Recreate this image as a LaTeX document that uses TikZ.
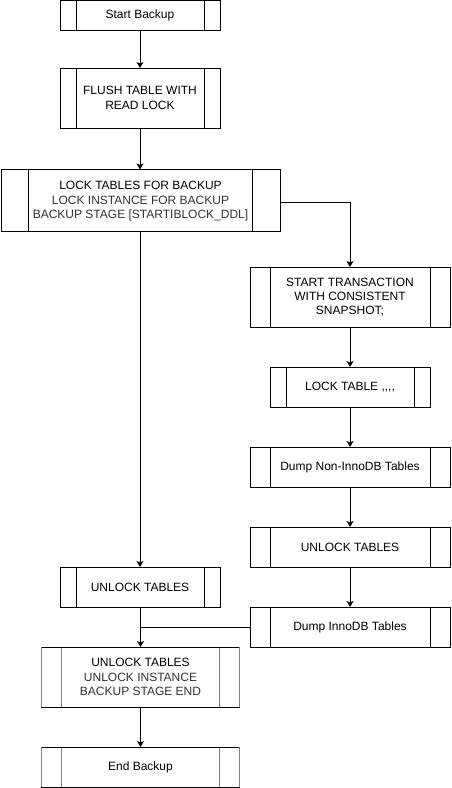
\documentclass[tikz,border=0pt]{standalone}
\usepackage{fontspec}
\setmainfont{Liberation Sans}
\usetikzlibrary{arrows.meta,calc}
\definecolor{boxgray}{RGB}{128,128,128}
\definecolor{txtgray}{RGB}{51,51,51}
\tikzset{
  procbars/.style={path picture={
    \draw[#1] ($(path picture bounding box.north west)!0.1!(path picture bounding box.north east)$) --
              ($(path picture bounding box.south west)!0.1!(path picture bounding box.south east)$);
    \draw[#1] ($(path picture bounding box.north west)!0.9!(path picture bounding box.north east)$) --
              ($(path picture bounding box.south west)!0.9!(path picture bounding box.south east)$);
  }},
  proc/.style={draw=black, line width=1pt, fill=white, inner sep=0pt, outer sep=0pt,
    align=center, font=\fontsize{12}{14.4}\selectfont, procbars=black},
  procg/.style={proc, procbars={boxgray,line width=1.4pt}},
  flow/.style={line width=1pt, draw=black, -{Stealth[length=6pt,width=7pt,inset=1.5pt]}},
  joinline/.style={line width=1pt, draw=black},
}
\begin{document}
\begin{tikzpicture}[x=1pt,y=-1pt]
\useasboundingbox (0,0) rectangle (451,788);
\node[proc, minimum width=160, minimum height=30] (s1) at (140,15.5) {Start Backup};
\node[proc, minimum width=160, minimum height=60] (s2) at (140,98) {FLUSH TABLE WITH\\READ LOCK};
\node[proc, minimum width=279, minimum height=62] (s3) at (140.5,200.5) {\rule{0pt}{10pt}LOCK TABLES FOR BACKUP\\\textcolor{txtgray}{LOCK INSTANCE FOR BACKUP}\\\textcolor{txtgray}{BACKUP STAGE [STARTIBLOCK\_DDL]}};
\node[proc, minimum width=200, minimum height=60] (r1) at (350,297) {START TRANSACTION\\WITH CONSISTENT\\SNAPSHOT;};
\node[proc, minimum width=160, minimum height=40] (r2) at (350,387) {LOCK TABLE {,}{,}{,}{,}};
\node[proc, minimum width=200, minimum height=40] (r3) at (350,467) {Dump Non-InnoDB Tables};
\node[proc, minimum width=200, minimum height=40] (r4) at (350,547) {UNLOCK TABLES};
\node[proc, minimum width=200, minimum height=40] (r5) at (350,627) {Dump InnoDB Tables};
\node[proc, minimum width=160, minimum height=40] (l1) at (140,587) {UNLOCK TABLES};
\node[procg, minimum width=198, minimum height=60] (e1) at (140.5,677) {UNLOCK TABLES\\\textcolor{txtgray}{UNLOCK INSTANCE}\\\textcolor{txtgray}{BACKUP STAGE END}};
\node[procg, minimum width=198, minimum height=40] (e2) at (140.5,767) {End Backup};
\foreach \n in {e1,e2}{
  \draw[boxgray, line width=1.4pt] (\n.north west) -- (\n.south west);
  \draw[boxgray, line width=1.4pt] (\n.north east) -- (\n.south east);
}
\draw[flow] (s1) -- (s2);
\draw[flow] (s2.south) -- (s2.south |- s3.north);
\draw[flow] (s3.south -| l1.north) -- (l1.north);
\draw[flow] ($(s3.east)+(0,1.5)$) -| (r1.north);
\draw[flow] (r1) -- (r2);
\draw[flow] (r2) -- (r3);
\draw[flow] (r3) -- (r4);
\draw[flow] (r4) -- (r5);
\draw[flow] (l1.south -| e1.north) -- (e1.north);
\draw[joinline] (r5.west) -- (r5.west -| e1.north);
\draw[flow] (e1) -- (e2);
\end{tikzpicture}
\end{document}
